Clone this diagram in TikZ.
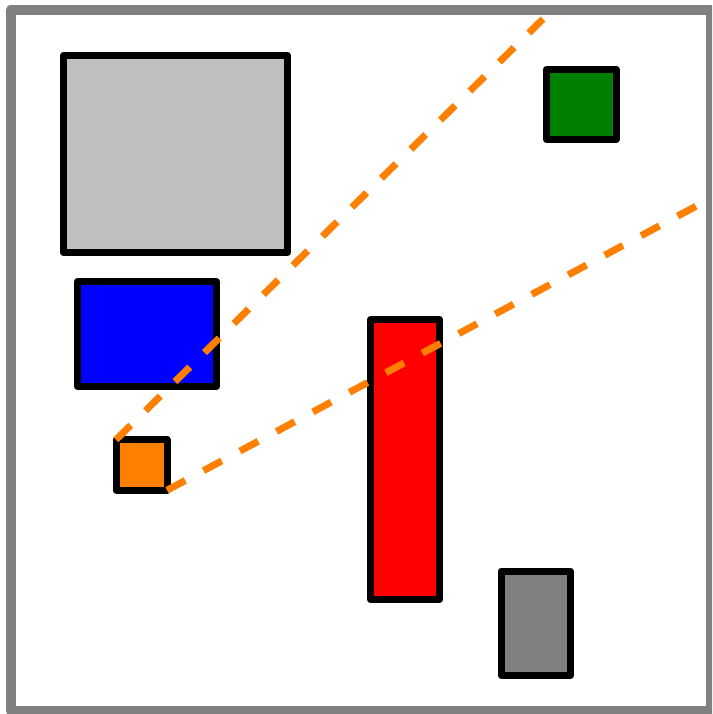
\documentclass[tikz,border=0pt]{standalone}
\definecolor{framegray}{HTML}{808080}
\definecolor{silverfill}{HTML}{C0C0C0}
\definecolor{darkgreen}{HTML}{008000}
\definecolor{rayorange}{HTML}{FF8000}
\begin{document}
\begin{tikzpicture}[
    x=1pt, y=-1pt,
    box/.style={rectangle, draw=black, line width=7pt, line join=round,
      inner sep=0pt, outer sep=0pt},
    ray/.style={draw=rayorange, line width=7pt, dash pattern=on 20.7pt off 20.7pt}
  ]
  \path[use as bounding box, clip] (0,0) rectangle (712,714);
  % frame
  \draw[framegray, line width=10pt, line join=round] (10.5,10.5) rectangle (711,711);

  % boxes
  \node[box, fill=silverfill, minimum width=224pt, minimum height=197pt] (lightbox) at (175.5,154) {};
  \node[box, fill=blue, minimum width=139pt, minimum height=105pt] (bluebox) at (147,334) {};
  \node[box, fill=red, minimum width=69pt, minimum height=280pt] (redbox) at (405,459.5) {};
  \node[box, fill=darkgreen, minimum width=69.5pt, minimum height=70pt] (greenbox) at (581.25,104.5) {};
  \node[box, fill=framegray, minimum width=69.5pt, minimum height=104.5pt] (darkbox) at (535.75,623.25) {};
  \node[box, fill=rayorange, minimum width=51pt, minimum height=50.5pt] (marker) at (141.5,465) {};

  % rays
  \coordinate (upper) at (543,19);
  \coordinate (lower) at (697,205.7);
  \draw[ray] (marker.north west) -- (upper);
  \draw[ray] (marker.south east) -- (lower);
\end{tikzpicture}
\end{document}
